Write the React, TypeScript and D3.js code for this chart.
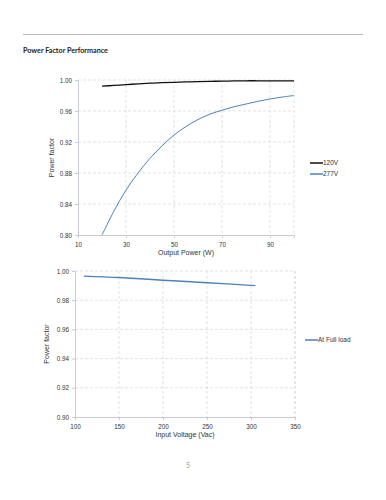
import React, { useEffect, useRef } from "react";
import * as d3 from "d3";

// Output power chart
const powerW = [20, 25, 30, 35, 40, 45, 50, 55, 60, 65, 70, 75, 80, 85, 90, 95, 100];
const pf120 = [0.992, 0.993, 0.994, 0.995, 0.996, 0.9965, 0.997, 0.9975, 0.998, 0.9983, 0.9985, 0.9988, 0.999, 0.999, 0.999, 0.999, 0.999];
const pf277 = [0.8, 0.831, 0.858, 0.88, 0.899, 0.915, 0.929, 0.94, 0.949, 0.956, 0.961, 0.9655, 0.969, 0.9725, 0.9755, 0.978, 0.98];
const powerTicks = [10, 30, 50, 70, 90];
const pfTicks1 = [0.8, 0.84, 0.88, 0.92, 0.96, 1.0];

// Input voltage chart
const voltage = [110, 150, 200, 250, 305];
const pfFull = [0.9965, 0.9955, 0.9937, 0.992, 0.99];
const voltTicks = [100, 150, 200, 250, 300, 350];
const pfTicks2 = [0.9, 0.92, 0.94, 0.96, 0.98, 1.0];

const BLUE = "#4f81bd";
const GRID = "#d6d6d6";
const AXIS = "#c8ccd4";
const TXT = "#333";

const App = () => {
  const svgRef = useRef<SVGSVGElement>(null);

  useEffect(() => {
    const svg = d3.select(svgRef.current);
    svg.selectAll("*").remove();

    // header rule and title
    svg.append("line").attr("x1", 23).attr("x2", 363).attr("y1", 34.5).attr("y2", 34.5)
      .attr("stroke", "#b8b8b8").attr("stroke-width", 1);
    svg.append("text").attr("x", 23).attr("y", 53).text("Power Factor Performance")
      .attr("font-family", "Lato, 'Open Sans', sans-serif").attr("font-weight", "bold")
      .attr("font-size", 7.2).attr("fill", "#222");

    const drawPanel = (opts: {
      x0: number; x1: number; y0: number; y1: number;
      xDomain: [number, number]; yDomain: [number, number];
      xTicks: number[]; yTicks: number[];
      xLabel: string; yLabelX: number; xLabelY: number;
      series: { x: number[]; y: number[]; color: string; name: string; width: number }[];
      legend: { x: number; y: number; step: number };
    }) => {
      const x = d3.scaleLinear().domain(opts.xDomain).range([opts.x0, opts.x1]);
      const y = d3.scaleLinear().domain(opts.yDomain).range([opts.y1, opts.y0]);
      const g = svg.append("g");

      // grid
      g.selectAll(".vg").data(opts.xTicks.concat([opts.xDomain[1]]).filter((d) => d !== opts.xDomain[0]))
        .join("line").attr("x1", (d) => x(d)).attr("x2", (d) => x(d))
        .attr("y1", opts.y0).attr("y2", opts.y1)
        .attr("stroke", GRID).attr("stroke-dasharray", "3,2").attr("stroke-width", 0.7);
      g.selectAll(".hg").data(opts.yTicks.filter((d) => d !== opts.yDomain[0]))
        .join("line").attr("y1", (d) => y(d)).attr("y2", (d) => y(d))
        .attr("x1", opts.x0).attr("x2", opts.x1)
        .attr("stroke", GRID).attr("stroke-dasharray", "3,2").attr("stroke-width", 0.7);

      // axes
      const axL = g.append("g").attr("transform", `translate(${opts.x0},0)`)
        .call(d3.axisLeft(y).tickValues(opts.yTicks).tickFormat(d3.format(".2f")).tickSize(3));
      const axB = g.append("g").attr("transform", `translate(0,${opts.y1})`)
        .call(d3.axisBottom(x).tickValues(opts.xTicks).tickSize(3));
      [axL, axB].forEach((a) => {
        a.select(".domain").attr("stroke", AXIS);
        a.selectAll(".tick line").attr("stroke", AXIS);
        a.selectAll("text").attr("font-family", "'Liberation Sans', Arial, sans-serif")
          .attr("font-size", 6.3).attr("fill", TXT);
      });
      axB.selectAll("text").attr("dy", "0.9em");

      // labels
      g.append("text").attr("transform", `translate(${opts.yLabelX},${(opts.y0 + opts.y1) / 2}) rotate(-90)`)
        .attr("text-anchor", "middle").text("Power factor")
        .attr("font-family", "'Liberation Sans', Arial, sans-serif").attr("font-size", 7).attr("fill", TXT);
      g.append("text").attr("x", (opts.x0 + opts.x1) / 2).attr("y", opts.xLabelY)
        .attr("text-anchor", "middle").text(opts.xLabel)
        .attr("font-family", "'Liberation Sans', Arial, sans-serif").attr("font-size", 7).attr("fill", TXT);

      // series
      opts.series.forEach((s, i) => {
        const pts = s.x.map((v, j) => [v, s.y[j]] as [number, number]);
        g.append("path").datum(pts)
          .attr("d", d3.line<[number, number]>().x((d) => x(d[0])).y((d) => y(d[1])).curve(d3.curveCatmullRom))
          .attr("fill", "none").attr("stroke", s.color).attr("stroke-width", s.width);
        const ly = opts.legend.y + i * opts.legend.step;
        g.append("line").attr("x1", opts.legend.x).attr("x2", opts.legend.x + 13)
          .attr("y1", ly).attr("y2", ly).attr("stroke", s.color).attr("stroke-width", 1.5);
        g.append("text").attr("x", opts.legend.x + 13).attr("y", ly + 2.3).text(s.name)
          .attr("font-family", "'Liberation Sans', Arial, sans-serif").attr("font-size", 6.5).attr("fill", TXT);
      });
    };

    drawPanel({
      x0: 78, x1: 294, y0: 80, y1: 235,
      xDomain: [10, 100], yDomain: [0.8, 1.0],
      xTicks: powerTicks, yTicks: pfTicks1,
      xLabel: "Output Power (W)", yLabelX: 54, xLabelY: 255,
      series: [
        { x: powerW, y: pf120, color: "#111", name: "120V", width: 1.3 },
        { x: powerW, y: pf277, color: BLUE, name: "277V", width: 1 },
      ],
      legend: { x: 310, y: 163, step: 11 },
    });

    drawPanel({
      x0: 75, x1: 295, y0: 271, y1: 417,
      xDomain: [100, 350], yDomain: [0.9, 1.0],
      xTicks: voltTicks, yTicks: pfTicks2,
      xLabel: "Input Voltage (Vac)", yLabelX: 49, xLabelY: 437,
      series: [{ x: voltage, y: pfFull, color: BLUE, name: "At Full load", width: 1.4 }],
      legend: { x: 305, y: 340, step: 11 },
    });

    svg.append("text").attr("x", 188).attr("y", 468).attr("text-anchor", "middle").text("5")
      .attr("font-family", "Lato, sans-serif").attr("font-size", 7).attr("fill", "#999");
  }, []);

  return (
    <svg ref={svgRef} width={386} height={500}
      style={{ position: "absolute", left: 0, top: 0, background: "#fff" }} />
  );
};

export default App;
